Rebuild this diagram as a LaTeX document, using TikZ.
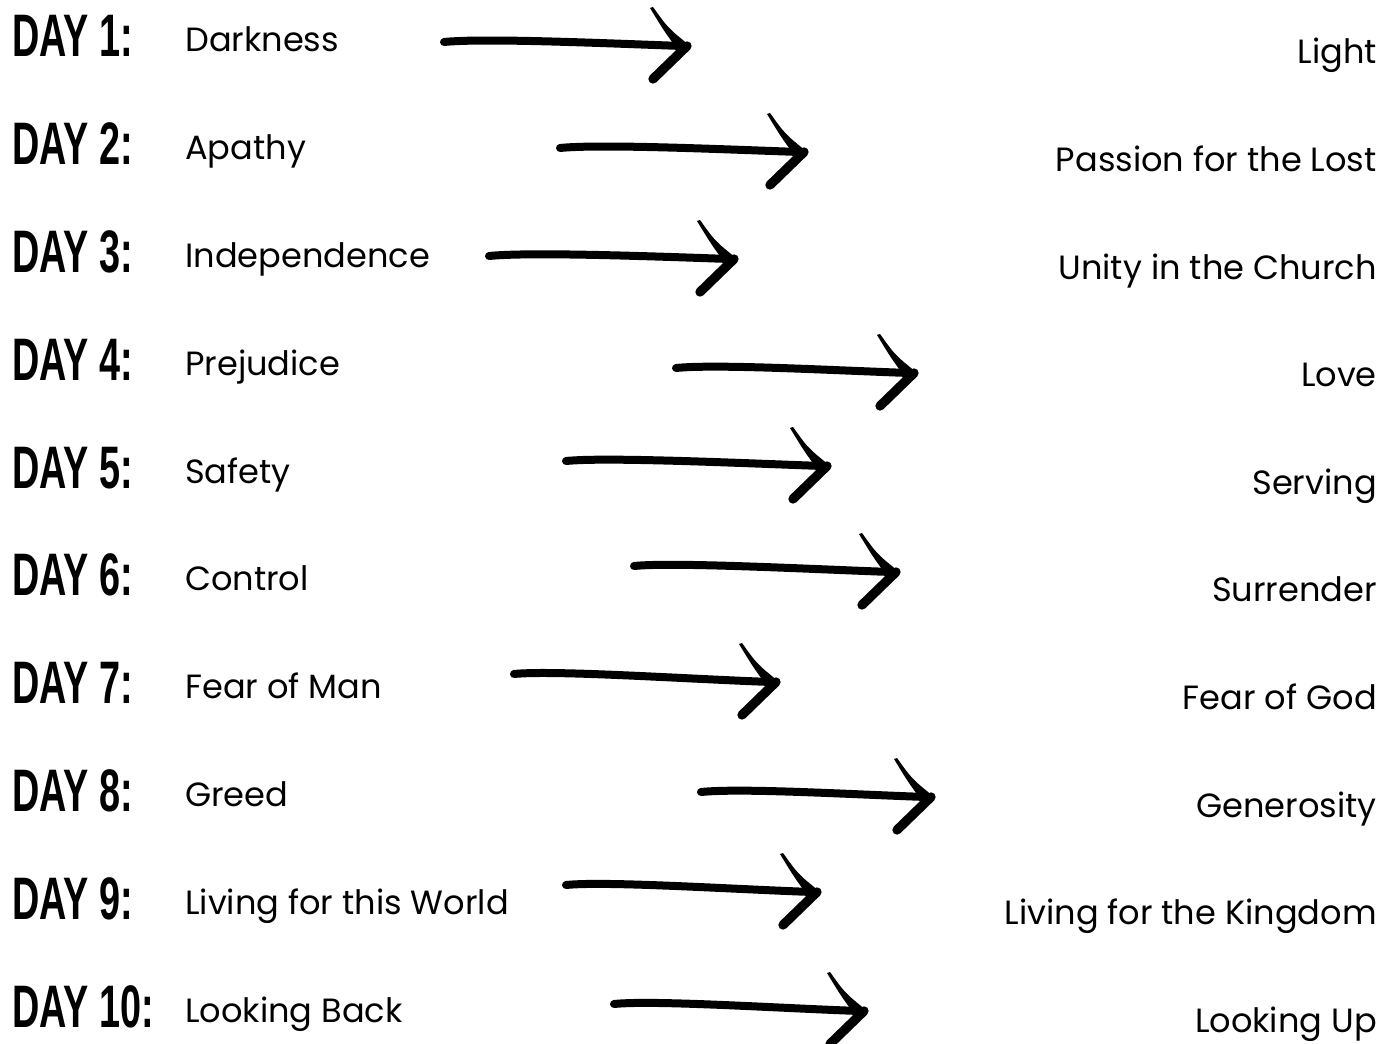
\documentclass[tikz,border=0pt]{standalone}
\usepackage{fontspec}
\setmainfont{Poppins}
\newfontfamily\dayfont[FakeStretch=0.63]{Liberation Sans Bold}
\usetikzlibrary{calc}
\tikzset{
  daylbl/.style={anchor=base west, inner sep=0pt, font=\dayfont\fontsize{45}{45}\selectfont},
  fromlbl/.style={anchor=base west, inner sep=0pt, font=\fontsize{25.2}{30}\selectfont},
  tolbl/.style={anchor=base east, inner sep=0pt, font=\fontsize{25.2}{30}\selectfont},
}
\newcommand\brusharrow[2]{%
  \draw[line width=6pt, line cap=round] (#1) .. controls ($(#1)+(40,-4)$) and ($(#2)+(-90,-3)$) .. ($(#2)+(-6,0)$);
  \fill ($(#2)+(-38,-38)$) -- ($(#2)+(-35,-39)$) .. controls ($(#2)+(-20,-18)$) .. ($(#2)+(1,-1)$) -- ($(#2)+(-10,4)$) .. controls ($(#2)+(-24,-15)$) .. cycle;
  \draw[line width=7pt, line cap=round] ($(#2)+(-1,0)$) -- ($(#2)+(-35,33)$);
}
\begin{document}
\begin{tikzpicture}[x=0.75pt,y=-0.75pt]
\useasboundingbox (0,0) rectangle (1397,1044);
\foreach \i/\a/\b [count=\k from 0] in {1/Darkness/Light, 2/Apathy/Passion for the Lost, 3/Independence/Unity in the Church, 4/Prejudice/Love, 5/Safety/Serving, 6/Control/Surrender, 7/Fear of Man/Fear of God, 8/Greed/Generosity, 9/Living for this World/Living for the Kingdom, 10/Looking Back/Looking Up}{
  \node[daylbl] (d\i) at (12, 57+107.8*\k) {DAY \i:};
  \node[fromlbl] (f\i) at (185, 52+107.8*\k) {\a};
  \node[tolbl] (t\i) at (1377, 64+107.6*\k) {\b};
}
\foreach \i/\sx/\sy/\ex/\ey in {1/444/42/688/46, 2/560/148/805/152, 3/489/256/735/259, 4/676/368/915/373, 5/566/461/828/466, 6/634/566/897/572, 7/514/674/777/682, 8/701/792/932/797, 9/566/885/818/892, 10/614/1004/865/1011}{
  \coordinate (s\i) at (\sx,\sy);
  \coordinate (e\i) at (\ex,\ey);
  \brusharrow{s\i}{e\i}
}
\end{tikzpicture}
\end{document}
